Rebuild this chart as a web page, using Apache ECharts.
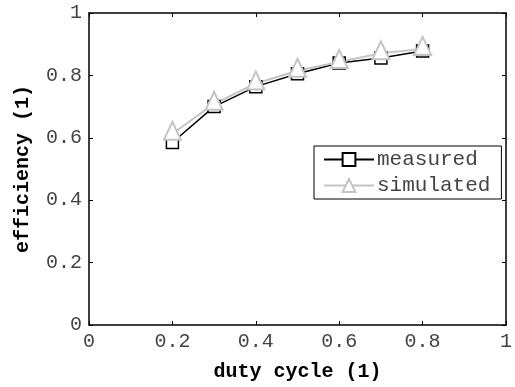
<!DOCTYPE html>
<html>
<head>
<meta charset="utf-8">
<script src="https://cdn.jsdelivr.net/npm/echarts@6/dist/echarts.min.js"></script>
<style>
html,body{margin:0;padding:0;background:#fff;}
#chart{width:515px;height:387px;}
</style>
</head>
<body>
<div id="chart"></div>
<script>
const dutyCycle = [0.2, 0.3, 0.4, 0.5, 0.6, 0.7, 0.8];
const measured = [0.585, 0.700, 0.764, 0.805, 0.840, 0.856, 0.878];
const simulated = [0.613, 0.709, 0.774, 0.815, 0.843, 0.871, 0.885];
const xName = 'duty cycle (1)';
const yName = 'efficiency (1)';
const seriesNames = ['measured', 'simulated'];

const FONT = 'Liberation Mono';
const tickLabel = {fontFamily: FONT, fontSize: 20, color: '#444'};
const lineStyleAxis = {color: '#000', width: 1.5};

const chart = echarts.init(document.getElementById('chart'), null, {renderer: 'canvas'});
chart.setOption({
  animation: false,
  backgroundColor: '#fff',
  grid: {left: 89, top: 13, right: 8, bottom: 61, containLabel: false},
  legend: {
    left: 314, top: 146,
    orient: 'vertical',
    backgroundColor: '#fff',
    borderColor: '#000', borderWidth: 1,
    padding: [3, 11, 3, 9],
    itemGap: 5,
    itemWidth: 50, itemHeight: 16,
    textStyle: {fontFamily: FONT, fontSize: 21, color: '#444', padding: [0, 0, 0, -2]},
    data: seriesNames
  },
  xAxis: [{
    type: 'value', min: 0, max: 1, interval: 0.2,
    name: xName, nameLocation: 'middle', nameGap: 37,
    nameTextStyle: {fontFamily: FONT, fontSize: 20, fontWeight: 'bold', color: '#000'},
    axisLine: {show: true, onZero: false, lineStyle: lineStyleAxis},
    axisTick: {show: true, inside: true, length: 4, lineStyle: {color: '#000'}},
    axisLabel: Object.assign({margin: 7}, tickLabel),
    splitLine: {show: false}
  }, {
    type: 'value', min: 0, max: 1, interval: 0.2, position: 'top',
    axisLine: {show: true, onZero: false, lineStyle: lineStyleAxis},
    axisTick: {show: true, inside: true, length: 4, lineStyle: {color: '#000'}},
    axisLabel: {show: false}, splitLine: {show: false}
  }],
  yAxis: [{
    type: 'value', min: 0, max: 1, interval: 0.2,
    name: yName, nameLocation: 'middle', nameGap: 56,
    nameTextStyle: {fontFamily: FONT, fontSize: 20, fontWeight: 'bold', color: '#000'},
    axisLine: {show: true, onZero: false, lineStyle: lineStyleAxis},
    axisTick: {show: true, inside: true, length: 4, lineStyle: {color: '#000'}},
    axisLabel: Object.assign({margin: 7}, tickLabel),
    splitLine: {show: false}
  }, {
    type: 'value', min: 0, max: 1, interval: 0.2, position: 'right',
    axisLine: {show: true, onZero: false, lineStyle: lineStyleAxis},
    axisTick: {show: true, inside: true, length: 4, lineStyle: {color: '#000'}},
    axisLabel: {show: false}, splitLine: {show: false}
  }],
  series: [{
    name: seriesNames[0], type: 'line',
    data: dutyCycle.map((x, i) => [x, measured[i]]),
    symbol: 'rect', symbolSize: 12, showAllSymbol: true,
    lineStyle: {color: '#000', width: 1.5},
    itemStyle: {color: '#fff', borderColor: '#000', borderWidth: 1.5},
    color: '#000'
  }, {
    name: seriesNames[1], type: 'line',
    data: dutyCycle.map((x, i) => [x, simulated[i]]),
    symbol: 'triangle', symbolSize: [17, 18], symbolOffset: [0, -3], showAllSymbol: true,
    lineStyle: {color: '#c4c4c4', width: 2},
    itemStyle: {color: '#fff', borderColor: '#c4c4c4', borderWidth: 2},
    color: '#c4c4c4'
  }]
});
</script>
</body>
</html>
